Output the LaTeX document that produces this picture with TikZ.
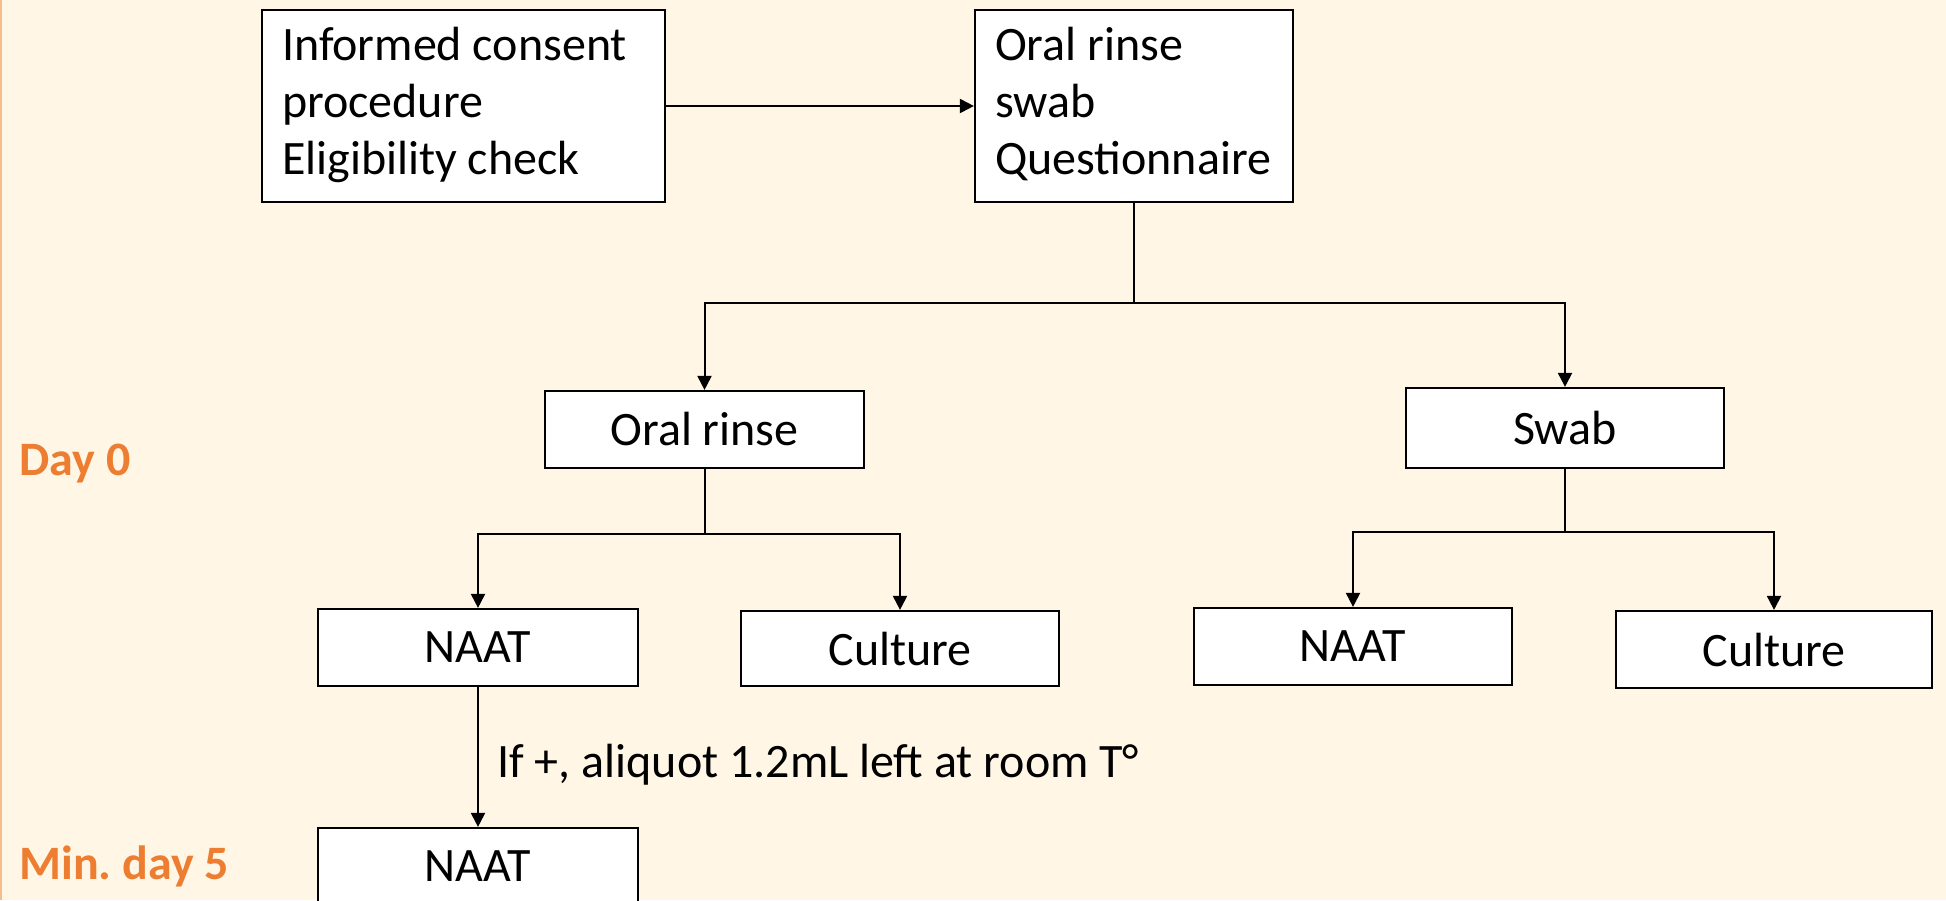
\documentclass[tikz,border=0pt]{standalone}
\usepackage{fontspec}
\setmainfont{Carlito}
\usetikzlibrary{arrows.meta}
\definecolor{bgcream}{HTML}{FFF6E5}
\definecolor{dayorange}{HTML}{ED7D31}
\definecolor{edgeorange}{HTML}{F6BE8C}
\newcommand{\linesof}[1]{\spaceskip=0pt\xspaceskip=0pt\begin{tabular}{@{}l@{}}#1\end{tabular}}
\tikzset{
  box/.style={draw=black, line width=1.1pt, fill=white, inner sep=0pt,
    minimum height=38.5pt, font=\fontsize{24}{28.5}\selectfont},
  textbox/.style={draw=black, line width=1.1pt, fill=white, inner xsep=10pt, inner ysep=0pt,
    minimum height=96pt, font=\fontsize{24}{28.5}\selectfont},
  conn/.style={line width=1pt, draw=black},
  arr/.style={conn, -{Triangle[length=7pt,width=7pt]}},
  daylabel/.style={text=dayorange, font=\fontsize{24}{28}\selectfont\bfseries, inner sep=0pt, anchor=base west},
  edgelabel/.style={font=\fontsize{24}{28}\selectfont, inner sep=0pt, anchor=base west}
}
\begin{document}
\frenchspacing
\begin{tikzpicture}[x=0.5pt,y=-0.5pt]
\useasboundingbox (0,0) rectangle (1946,900);
\fill[bgcream] (0,0) rectangle (1946,900);
\draw[edgeorange, line width=1.2pt] (1,0) -- (1,900);
\begin{scope}
\clip (0,0) rectangle (1946,900);
\node[textbox, text width=181.5pt] (consent) at (463.5,106) {\linesof{Informed consent\\procedure\\Eligibility check}};
\node[textbox, text width=139pt] (collect) at (1134,106) {\linesof{Oral rinse\\swab\\Questionnaire}};
\node[box, minimum width=159.5pt] (rinse) at (704.5,429.5) {Oral rinse};
\node[box, minimum width=159pt, minimum height=40pt] (swab) at (1565,428) {Swab};
\node[box, minimum width=160pt] (naat1) at (478,647.5) {NAAT};
\node[box, minimum width=159pt, minimum height=37.5pt] (cult1) at (900,648.5) {Culture};
\node[box, minimum width=159pt] (naat2) at (1353,646.5) {NAAT};
\node[box, minimum width=158pt] (cult2) at (1774,649.5) {Culture};
\node[box, minimum width=160pt] (naat3) at (478,866.5) {NAAT};
\end{scope}

\node[daylabel] (day0) at (19,475) {Day 0};
\node[daylabel] (day5) at (19,879) {Min. day 5};

\draw[arr] (consent.east) -- (collect.west);

\coordinate (j1) at (collect.south |- 0,303);
\draw[conn] (collect.south) -- (j1);
\draw[arr] (j1) -| (rinse.north);
\draw[arr] (j1) -| (swab.north);

\coordinate (j2) at (rinse.south |- 0,534);
\draw[conn] (rinse.south) -- (j2);
\draw[arr] (j2) -| (naat1.north);
\draw[arr] (j2) -| (cult1.north);

\coordinate (j3) at (swab.south |- 0,532);
\draw[conn] (swab.south) -- (j3);
\draw[arr] (j3) -| (naat2.north);
\draw[arr] (j3) -| (cult2.north);

\draw[arr] (naat1.south) -- (naat3.north);
\node[edgelabel] (aliquot) at (497,777) {If +, aliquot 1.2mL left at room T°};
\end{tikzpicture}
\end{document}
